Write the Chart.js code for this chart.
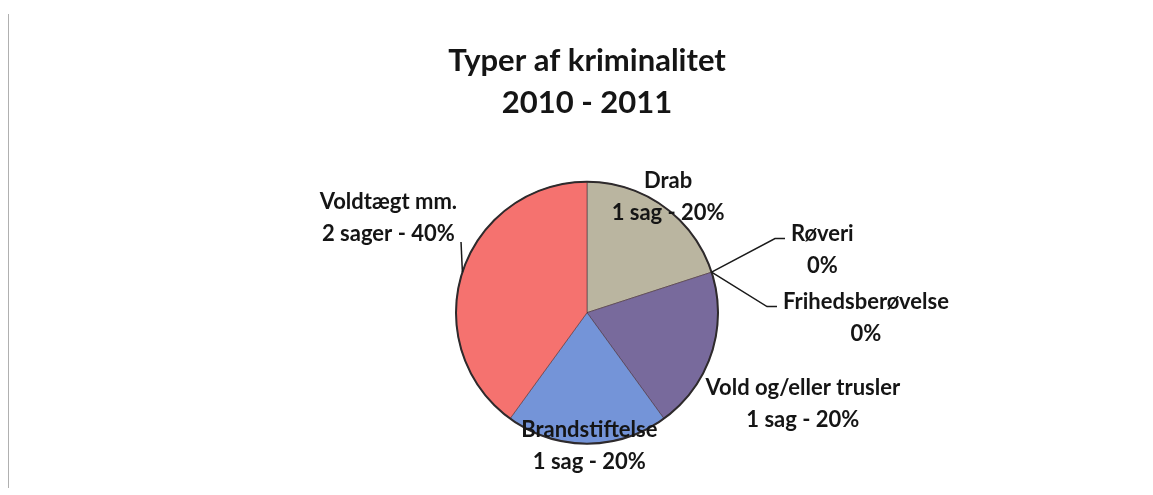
<!DOCTYPE html>
<html>
<head>
<meta charset="utf-8">
<script src="https://cdn.jsdelivr.net/npm/chart.js@4"></script>
<style>
  html, body { margin: 0; padding: 0; background: #fff; }
  #wrap { position: relative; width: 1153px; height: 495px; }
  #edge { position: absolute; left: 8px; top: 14px; width: 1px; height: 474px; background: #b0b0b0; }
</style>
</head>
<body>
<div id="wrap">
  <div id="edge"></div>
  <canvas id="pie" width="1153" height="495"></canvas>
</div>
<script>
const categories = ["Drab", "Røveri", "Frihedsberøvelse", "Vold og/eller trusler", "Brandstiftelse", "Voldtægt mm."];
const cases = [1, 0, 0, 1, 1, 2];
const sliceColors = ["#bab5a0", "#9bbb59", "#4bacc6", "#786a9c", "#7494d8", "#f5726f"];

// where each label sits: angle shift from slice middle (deg), distance in radii
const labelPlace = [
    { shift: -1, dist: 1.08, leader: null },
    { shift: 3, dist: 1.86, leader: "right" },
    { shift: 19, dist: 2.13, leader: "right" },
    { shift: 5, dist: 1.79, leader: null },
    { shift: -1, dist: 1.02, leader: null },
    { shift: 7.5, dist: 1.68, leader: "left" },
];

const total = cases.reduce((a, b) => a + b, 0);

function labelLines(i) {
    const n = cases[i];
    const pct = Math.round(n / total * 100);
    if (n === 0) return [categories[i], pct + "%"];
    return [categories[i], n + " " + (n === 1 ? "sag" : "sager") + " - " + pct + "%"];
}

const sliceLabels = {
    id: "sliceLabels",
    afterDatasetsDraw(chart) {
        const ctx = chart.ctx;
        const meta = chart.getDatasetMeta(0);
        const lh = 32;
        ctx.save();
        // dark rim round the pie
        const first = meta.data[0];
        ctx.beginPath();
        ctx.arc(first.x, first.y, first.outerRadius, 0, Math.PI * 2);
        ctx.strokeStyle = "#2e2a2c";
        ctx.lineWidth = 2;
        ctx.stroke();

        ctx.font = "bold 22px Lato";
        ctx.fillStyle = "#151515";
        ctx.textAlign = "center";
        ctx.textBaseline = "middle";
        meta.data.forEach((arc, i) => {
            const { x, y, startAngle, endAngle, outerRadius } = arc.getProps(["x", "y", "startAngle", "endAngle", "outerRadius"], true);
            const mid = (startAngle + endAngle) / 2;
            const p = labelPlace[i];
            const a = mid + p.shift * Math.PI / 180;
            const lx = x + Math.cos(a) * outerRadius * p.dist;
            const ly = y + Math.sin(a) * outerRadius * p.dist;
            const lines = labelLines(i);
            lines.forEach((t, k) => {
                ctx.fillText(t, lx, ly + (k - 0.5) * lh);
            });
            if (p.leader) {
                const sx = x + Math.cos(mid) * outerRadius;
                const sy = y + Math.sin(mid) * outerRadius;
                ctx.beginPath();
                ctx.strokeStyle = "#1a1a1a";
                ctx.lineWidth = 1.5;
                ctx.moveTo(sx, sy);
                if (p.leader === "right") {
                    const w = ctx.measureText(lines[0]).width;
                    const ex = lx - w / 2 - 6, ey = ly - lh / 2 + 5;
                    ctx.lineTo(ex - 10, ey);
                    ctx.lineTo(ex, ey);
                } else {
                    const w = Math.max(...lines.map(t => ctx.measureText(t).width));
                    ctx.lineTo(lx + w / 2 + 4, ly + lh / 2 + 8);
                }
                ctx.stroke();
            }
        });
        ctx.restore();
    }
};

new Chart(document.getElementById("pie"), {
    type: "pie",
    plugins: [sliceLabels],
    data: {
        labels: categories,
        datasets: [{
            data: cases,
            backgroundColor: sliceColors,
            borderColor: "rgba(70,45,55,0.55)",
            borderWidth: 1,
            radius: 131,
        }],
    },
    options: {
        responsive: false,
        animation: false,
        layout: { padding: { left: 21, right: 0, top: 0, bottom: 4 } },
        plugins: {
            legend: { display: false },
            tooltip: { enabled: false },
            title: {
                display: true,
                text: ["Typer af kriminalitet", "2010 - 2011"],
                color: "#151515",
                font: { family: "Lato", size: 31, weight: "bold", lineHeight: 1.36 },
                padding: { top: 40, bottom: 10 },
            },
        },
    },
});
</script>
</body>
</html>
